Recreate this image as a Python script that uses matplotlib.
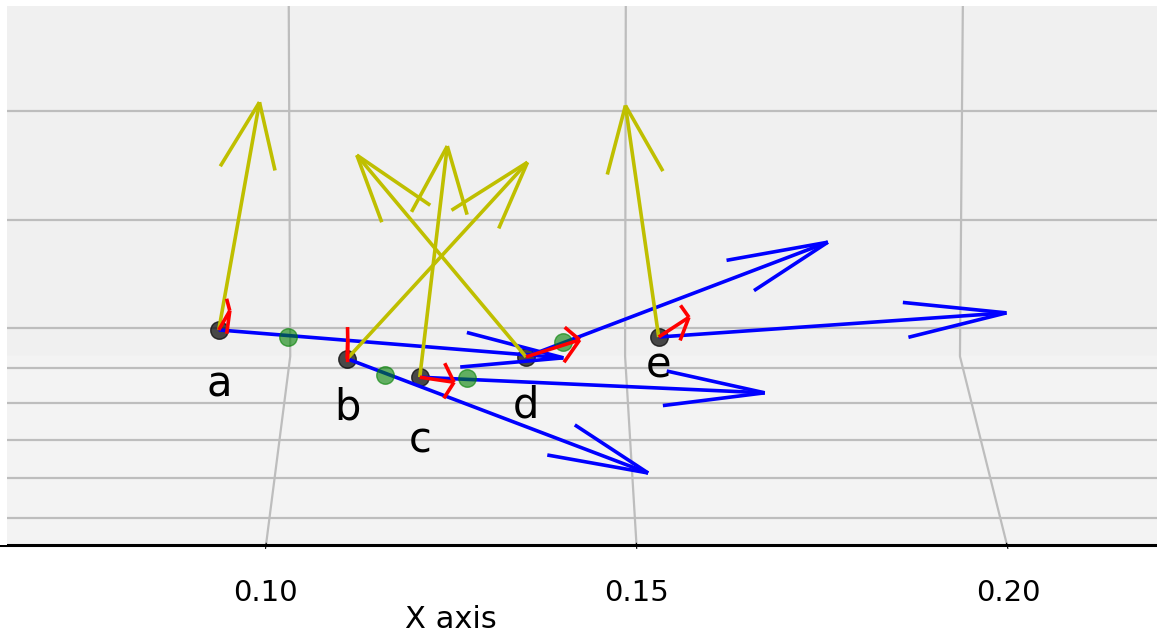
import numpy as np
import matplotlib
matplotlib.use('Agg')
import matplotlib.pyplot as plt
from matplotlib.patches import Rectangle
from mpl_toolkits.mplot3d import proj3d

# frame origins
names = ['a', 'b', 'c', 'd', 'e']
px = [0.0932, 0.1107, 0.1206, 0.1351, 0.1532]
py = [-0.10, -0.10, -0.10, -0.10, -0.10]
pz = [0.0333, 0.0272, 0.0233, 0.0276, 0.0318]

# frame x axes (blue)
bx = [0.0470, 0.0411, 0.0471, 0.0411, 0.0474]
by = [0.0, 0.0, 0.0, 0.0, 0.0]
bz = [-0.0059, -0.0242, -0.0033, 0.0242, 0.0051]

# frame y axes (red)
rx = [0.0007, -0.0004, 0.0045, 0.0075, 0.0046]
ry = [0.0477, 0.0479, 0.0470, 0.0472, 0.0477]
rz = [-0.0033, -0.0033, -0.0086, -0.0038, -0.0032]

# frame z axes (yellow)
yx = [0.0057, 0.0246, 0.0038, -0.0230, -0.0046]
yy = [0.0, 0.0, 0.0, 0.0, 0.0]
yz = [0.0479, 0.0414, 0.0487, 0.0425, 0.0487]

# green points
gx = [0.1026, 0.1159, 0.1271, 0.1402]
gy = [-0.10, -0.10, -0.10, -0.10]
gz = [0.0318, 0.0238, 0.0231, 0.0307]

x_ticks = [0.05, 0.10, 0.15, 0.20]
y_ticks = [-0.10, -0.05, 0.0, 0.05, 0.10]
z_ticks = [0.0, 0.025, 0.05, 0.075, 0.10, 0.125, 0.15, 0.175]

xlim = (0.030, 0.238)
ylim = (-0.1331, 0.1164)
zlim = (-0.0065, 0.18725)

W, H = 1157, 638


def place_axes(fig, ax):
	# scale/shift the (cropped) 3d box so the x ticks land where the picture has them
	fig.canvas.draw()
	M = ax.get_proj()
	xs, ys, _ = proj3d.proj_transform(np.array([0.10, 0.20]), np.full(2, ylim[0]), np.full(2, zlim[0]), M)
	d = ax.transData.transform(np.column_stack([xs, ys]))
	bb = ax.get_position().transformed(fig.transFigure)
	k = (1007 - 266) / (d[1, 0] - d[0, 0])
	x0 = 266 - k * (d[0, 0] - bb.x0)
	y0 = (H - 545) - k * (d[0, 1] - bb.y0)
	ax.set_position([x0 / W, y0 / H, k * bb.width / W, k * bb.height / H])


def main():
	plt.rcParams['grid.color'] = '#bdbdbd'
	plt.rcParams['grid.linewidth'] = 1.6
	plt.rcParams['axes.linewidth'] = 2.2

	fig = plt.figure(figsize=(W / 100, H / 100), dpi=100)
	side = 1800
	ax = fig.add_axes([0, 0, side / W, side / H], projection='3d', computed_zorder=False)
	box = np.array([7.69 * (xlim[1] - xlim[0]), 0.9805, 0.9805])
	ax.set_box_aspect(box, zoom=np.linalg.norm(box) / (1.8294640721620434 * 25 / 24))
	ax.set_proj_type('persp', focal_length=0.95)
	ax.view_init(elev=9.2, azim=-90)

	ax.set_xlim(xlim)
	ax.set_ylim(ylim)
	ax.set_zlim(zlim)
	ax.set_xticks(x_ticks)
	ax.set_xticklabels(['%.2f' % t for t in x_ticks])
	ax.set_yticks(y_ticks)
	ax.set_yticklabels([])
	ax.set_zticks(z_ticks)
	ax.set_zticklabels([])
	ax.tick_params(axis='x', labelsize=21, pad=11)
	ax.yaxis.set_tick_params(label1On=False, label2On=False)
	ax.zaxis.set_tick_params(label1On=False, label2On=False)
	for t in [ax.yaxis.label, ax.zaxis.label, ax.xaxis.get_offset_text(),
			ax.yaxis.get_offset_text(), ax.zaxis.get_offset_text()]:
		t.set_visible(False)

	ax.xaxis.set_pane_color((0.95, 0.95, 0.95, 1.0))
	ax.yaxis.set_pane_color((0.943, 0.943, 0.943, 1.0))
	ax.zaxis.set_pane_color((0.952, 0.952, 0.952, 1.0))

	ax.scatter(px, py, pz, s=160, c='k', alpha=0.7, depthshade=False, zorder=1)
	ax.quiver(px, py, pz, bx, by, bz, color='b', linewidth=2.6, arrow_length_ratio=0.3, zorder=2)
	ax.quiver(px, py, pz, yx, yy, yz, color='y', linewidth=2.6, arrow_length_ratio=0.3, zorder=3)
	ax.scatter(gx, gy, gz, s=160, c='g', alpha=0.6, depthshade=False, zorder=4)
	ax.quiver(px, py, pz, rx, ry, rz, color='r', linewidth=2.6, arrow_length_ratio=0.3, zorder=5)

	place_axes(fig, ax)

	# point names, projected once the view is fixed
	label_dz = [0.0116, 0.0104, 0.0133, 0.0102, 0.0061]
	lx, ly, _ = proj3d.proj_transform(np.array(px), np.array(py),
		np.array(pz) - np.array(label_dz), ax.get_proj())
	for i in range(len(names)):
		ax.text2D(lx[i], ly[i], names[i], transform=ax.transData, fontsize=30,
			ha='center', va='center', zorder=6)

	# axis title: in the picture it sits left of the box centre
	ax.text2D(451 / W, 1 - 628 / H, 'X axis', transform=fig.transFigure,
		fontsize=22, ha='center', va='baseline')

	# white strips left by the screenshot crop
	fig.add_artist(Rectangle((0, 1 - 6 / H), 1, 6 / H, transform=fig.transFigure,
		facecolor='white', edgecolor='none', zorder=10))
	fig.add_artist(Rectangle((0, 1 - 545 / H), 7 / W, 539 / H, transform=fig.transFigure,
		facecolor='white', edgecolor='none', zorder=10))

	plt.savefig('out.png', dpi=100)


if __name__ == '__main__':
	main()
